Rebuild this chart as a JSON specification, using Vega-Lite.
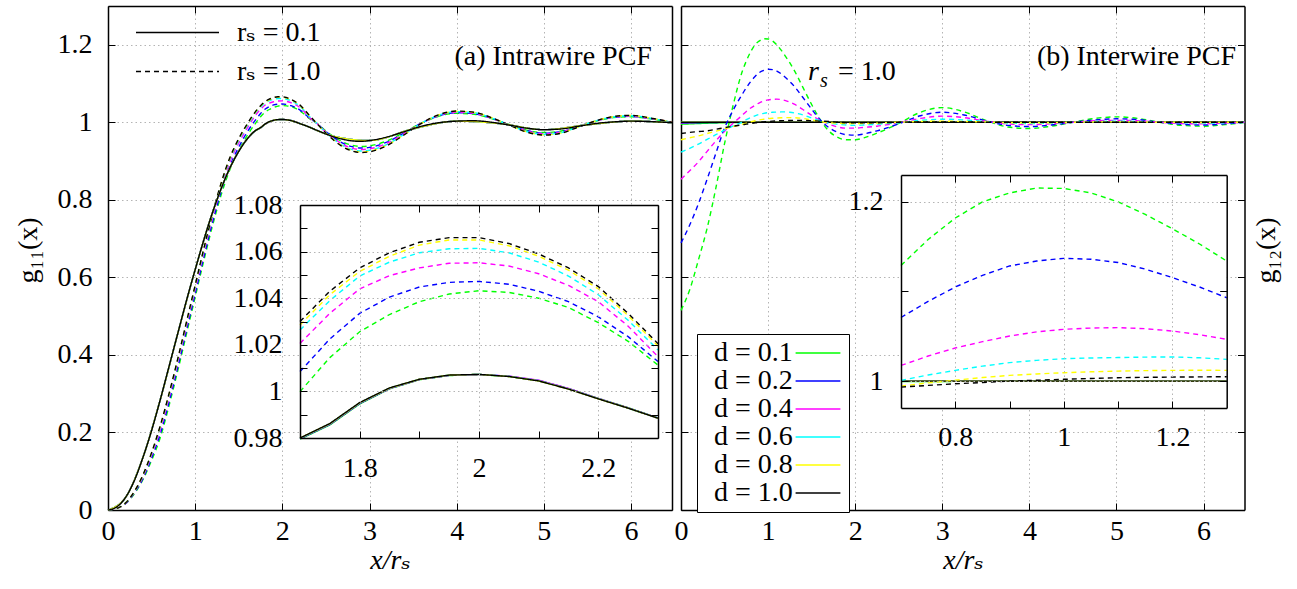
{
"$schema":"https://vega.github.io/schema/vega-lite/v6.json",
"width":1297,"height":589,"autosize":{"type":"none"},"padding":0,"background":"white",
"config":{"view":{"stroke":null},"font":"Liberation Serif, Times New Roman, DejaVu Serif, serif",
"axis":{"labelFont":"Liberation Serif, Times New Roman, DejaVu Serif, serif","labelFontSize":28,"labelColor":"black","titleFont":"Liberation Serif, Times New Roman, DejaVu Serif, serif","titleFontSize":28,"titleFontWeight":"normal","titleColor":"black","tickColor":"black","tickSize":-7,"tickWidth":1,"domainColor":"black","domainWidth":1.5,"gridColor":"#b4b4b4","gridDash":[1.5,3],"gridWidth":1,"labelFlush":false,"labelOverlap":false,"minExtent":0},
"legend":{"labelFont":"Liberation Serif, Times New Roman, DejaVu Serif, serif","labelFontSize":28,"labelColor":"black"}},
"datasets":{
"intra":[
{"d":"0.1","s":"1.0","x":0,"g":0},{"d":"0.1","s":"1.0","x":0.1,"g":0.004},{"d":"0.1","s":"1.0","x":0.2,"g":0.016},{"d":"0.1","s":"1.0","x":0.3,"g":0.041},{"d":"0.1","s":"1.0","x":0.4,"g":0.078},{"d":"0.1","s":"1.0","x":0.5,"g":0.128},{"d":"0.1","s":"1.0","x":0.6,"g":0.187},{"d":"0.1","s":"1.0","x":0.7,"g":0.269},{"d":"0.1","s":"1.0","x":0.8,"g":0.359},{"d":"0.1","s":"1.0","x":0.9,"g":0.454},{"d":"0.1","s":"1.0","x":1,"g":0.549},{"d":"0.1","s":"1.0","x":1.1,"g":0.644},{"d":"0.1","s":"1.0","x":1.2,"g":0.734},{"d":"0.1","s":"1.0","x":1.3,"g":0.814},{"d":"0.1","s":"1.0","x":1.4,"g":0.879},{"d":"0.1","s":"1.0","x":1.5,"g":0.927},{"d":"0.1","s":"1.0","x":1.6,"g":0.967},{"d":"0.1","s":"1.0","x":1.7,"g":0.9999},{"d":"0.1","s":"1.0","x":1.75,"g":1.0145},{"d":"0.1","s":"1.0","x":1.8,"g":1.0256},{"d":"0.1","s":"1.0","x":1.85,"g":1.033},{"d":"0.1","s":"1.0","x":1.9,"g":1.0385},{"d":"0.1","s":"1.0","x":1.95,"g":1.0418},{"d":"0.1","s":"1.0","x":2,"g":1.0432},{"d":"0.1","s":"1.0","x":2.05,"g":1.0425},{"d":"0.1","s":"1.0","x":2.1,"g":1.04},{"d":"0.1","s":"1.0","x":2.15,"g":1.036},{"d":"0.1","s":"1.0","x":2.2,"g":1.0295},{"d":"0.1","s":"1.0","x":2.25,"g":1.0215},{"d":"0.1","s":"1.0","x":2.3,"g":1.0113},{"d":"0.1","s":"1.0","x":2.4,"g":0.9968},{"d":"0.1","s":"1.0","x":2.5,"g":0.9776},{"d":"0.1","s":"1.0","x":2.6,"g":0.9616},{"d":"0.1","s":"1.0","x":2.7,"g":0.9488},{"d":"0.1","s":"1.0","x":2.8,"g":0.9408},{"d":"0.1","s":"1.0","x":2.9,"g":0.9376},{"d":"0.1","s":"1.0","x":3,"g":0.9392},{"d":"0.1","s":"1.0","x":3.2,"g":0.952},{"d":"0.1","s":"1.0","x":3.4,"g":0.9744},{"d":"0.1","s":"1.0","x":3.6,"g":0.9984},{"d":"0.1","s":"1.0","x":3.8,"g":1.016},{"d":"0.1","s":"1.0","x":4,"g":1.0232},{"d":"0.1","s":"1.0","x":4.2,"g":1.0208},{"d":"0.1","s":"1.0","x":4.4,"g":1.0096},{"d":"0.1","s":"1.0","x":4.6,"g":0.9944},{"d":"0.1","s":"1.0","x":4.8,"g":0.98},{"d":"0.1","s":"1.0","x":5,"g":0.9736},{"d":"0.1","s":"1.0","x":5.2,"g":0.9776},{"d":"0.1","s":"1.0","x":5.4,"g":0.9904},{"d":"0.1","s":"1.0","x":5.6,"g":1.0032},{"d":"0.1","s":"1.0","x":5.8,"g":1.012},{"d":"0.1","s":"1.0","x":6,"g":1.0144},{"d":"0.1","s":"1.0","x":6.2,"g":1.0096},{"d":"0.1","s":"1.0","x":6.47,"g":1},
{"d":"0.2","s":"1.0","x":0,"g":0},{"d":"0.2","s":"1.0","x":0.1,"g":0.004},{"d":"0.2","s":"1.0","x":0.2,"g":0.016},{"d":"0.2","s":"1.0","x":0.3,"g":0.043},{"d":"0.2","s":"1.0","x":0.4,"g":0.081},{"d":"0.2","s":"1.0","x":0.5,"g":0.134},{"d":"0.2","s":"1.0","x":0.6,"g":0.196},{"d":"0.2","s":"1.0","x":0.7,"g":0.278},{"d":"0.2","s":"1.0","x":0.8,"g":0.368},{"d":"0.2","s":"1.0","x":0.9,"g":0.463},{"d":"0.2","s":"1.0","x":1,"g":0.558},{"d":"0.2","s":"1.0","x":1.1,"g":0.653},{"d":"0.2","s":"1.0","x":1.2,"g":0.743},{"d":"0.2","s":"1.0","x":1.3,"g":0.823},{"d":"0.2","s":"1.0","x":1.4,"g":0.888},{"d":"0.2","s":"1.0","x":1.5,"g":0.936},{"d":"0.2","s":"1.0","x":1.6,"g":0.976},{"d":"0.2","s":"1.0","x":1.7,"g":1.0085},{"d":"0.2","s":"1.0","x":1.75,"g":1.0225},{"d":"0.2","s":"1.0","x":1.8,"g":1.0335},{"d":"0.2","s":"1.0","x":1.85,"g":1.0405},{"d":"0.2","s":"1.0","x":1.9,"g":1.0448},{"d":"0.2","s":"1.0","x":1.95,"g":1.0468},{"d":"0.2","s":"1.0","x":2,"g":1.0472},{"d":"0.2","s":"1.0","x":2.05,"g":1.046},{"d":"0.2","s":"1.0","x":2.1,"g":1.043},{"d":"0.2","s":"1.0","x":2.15,"g":1.0385},{"d":"0.2","s":"1.0","x":2.2,"g":1.032},{"d":"0.2","s":"1.0","x":2.25,"g":1.0235},{"d":"0.2","s":"1.0","x":2.3,"g":1.0128},{"d":"0.2","s":"1.0","x":2.4,"g":0.9966},{"d":"0.2","s":"1.0","x":2.5,"g":0.9762},{"d":"0.2","s":"1.0","x":2.6,"g":0.9592},{"d":"0.2","s":"1.0","x":2.7,"g":0.9456},{"d":"0.2","s":"1.0","x":2.8,"g":0.9371},{"d":"0.2","s":"1.0","x":2.9,"g":0.9337},{"d":"0.2","s":"1.0","x":3,"g":0.9354},{"d":"0.2","s":"1.0","x":3.2,"g":0.949},{"d":"0.2","s":"1.0","x":3.4,"g":0.9728},{"d":"0.2","s":"1.0","x":3.6,"g":0.9983},{"d":"0.2","s":"1.0","x":3.8,"g":1.017},{"d":"0.2","s":"1.0","x":4,"g":1.0247},{"d":"0.2","s":"1.0","x":4.2,"g":1.0221},{"d":"0.2","s":"1.0","x":4.4,"g":1.0102},{"d":"0.2","s":"1.0","x":4.6,"g":0.994},{"d":"0.2","s":"1.0","x":4.8,"g":0.9788},{"d":"0.2","s":"1.0","x":5,"g":0.972},{"d":"0.2","s":"1.0","x":5.2,"g":0.9762},{"d":"0.2","s":"1.0","x":5.4,"g":0.9898},{"d":"0.2","s":"1.0","x":5.6,"g":1.0034},{"d":"0.2","s":"1.0","x":5.8,"g":1.0128},{"d":"0.2","s":"1.0","x":6,"g":1.0153},{"d":"0.2","s":"1.0","x":6.2,"g":1.0102},{"d":"0.2","s":"1.0","x":6.47,"g":1},
{"d":"0.4","s":"1.0","x":0,"g":0},{"d":"0.4","s":"1.0","x":0.1,"g":0.004},{"d":"0.4","s":"1.0","x":0.2,"g":0.017},{"d":"0.4","s":"1.0","x":0.3,"g":0.045},{"d":"0.4","s":"1.0","x":0.4,"g":0.085},{"d":"0.4","s":"1.0","x":0.5,"g":0.141},{"d":"0.4","s":"1.0","x":0.6,"g":0.207},{"d":"0.4","s":"1.0","x":0.7,"g":0.289},{"d":"0.4","s":"1.0","x":0.8,"g":0.379},{"d":"0.4","s":"1.0","x":0.9,"g":0.474},{"d":"0.4","s":"1.0","x":1,"g":0.569},{"d":"0.4","s":"1.0","x":1.1,"g":0.664},{"d":"0.4","s":"1.0","x":1.2,"g":0.754},{"d":"0.4","s":"1.0","x":1.3,"g":0.834},{"d":"0.4","s":"1.0","x":1.4,"g":0.899},{"d":"0.4","s":"1.0","x":1.5,"g":0.947},{"d":"0.4","s":"1.0","x":1.6,"g":0.986},{"d":"0.4","s":"1.0","x":1.7,"g":1.0206},{"d":"0.4","s":"1.0","x":1.75,"g":1.0335},{"d":"0.4","s":"1.0","x":1.8,"g":1.044},{"d":"0.4","s":"1.0","x":1.85,"g":1.0497},{"d":"0.4","s":"1.0","x":1.9,"g":1.053},{"d":"0.4","s":"1.0","x":1.95,"g":1.055},{"d":"0.4","s":"1.0","x":2,"g":1.0552},{"d":"0.4","s":"1.0","x":2.05,"g":1.0538},{"d":"0.4","s":"1.0","x":2.1,"g":1.0505},{"d":"0.4","s":"1.0","x":2.15,"g":1.0455},{"d":"0.4","s":"1.0","x":2.2,"g":1.0385},{"d":"0.4","s":"1.0","x":2.25,"g":1.028},{"d":"0.4","s":"1.0","x":2.3,"g":1.0149},{"d":"0.4","s":"1.0","x":2.4,"g":0.9964},{"d":"0.4","s":"1.0","x":2.5,"g":0.9748},{"d":"0.4","s":"1.0","x":2.6,"g":0.9568},{"d":"0.4","s":"1.0","x":2.7,"g":0.9424},{"d":"0.4","s":"1.0","x":2.8,"g":0.9334},{"d":"0.4","s":"1.0","x":2.9,"g":0.9298},{"d":"0.4","s":"1.0","x":3,"g":0.9316},{"d":"0.4","s":"1.0","x":3.2,"g":0.946},{"d":"0.4","s":"1.0","x":3.4,"g":0.9712},{"d":"0.4","s":"1.0","x":3.6,"g":0.9982},{"d":"0.4","s":"1.0","x":3.8,"g":1.018},{"d":"0.4","s":"1.0","x":4,"g":1.0261},{"d":"0.4","s":"1.0","x":4.2,"g":1.0234},{"d":"0.4","s":"1.0","x":4.4,"g":1.0108},{"d":"0.4","s":"1.0","x":4.6,"g":0.9937},{"d":"0.4","s":"1.0","x":4.8,"g":0.9775},{"d":"0.4","s":"1.0","x":5,"g":0.9703},{"d":"0.4","s":"1.0","x":5.2,"g":0.9748},{"d":"0.4","s":"1.0","x":5.4,"g":0.9892},{"d":"0.4","s":"1.0","x":5.6,"g":1.0036},{"d":"0.4","s":"1.0","x":5.8,"g":1.0135},{"d":"0.4","s":"1.0","x":6,"g":1.0162},{"d":"0.4","s":"1.0","x":6.2,"g":1.0108},{"d":"0.4","s":"1.0","x":6.47,"g":1},
{"d":"0.6","s":"1.0","x":0,"g":0},{"d":"0.6","s":"1.0","x":0.1,"g":0.004},{"d":"0.6","s":"1.0","x":0.2,"g":0.018},{"d":"0.6","s":"1.0","x":0.3,"g":0.046},{"d":"0.6","s":"1.0","x":0.4,"g":0.088},{"d":"0.6","s":"1.0","x":0.5,"g":0.145},{"d":"0.6","s":"1.0","x":0.6,"g":0.213},{"d":"0.6","s":"1.0","x":0.7,"g":0.295},{"d":"0.6","s":"1.0","x":0.8,"g":0.385},{"d":"0.6","s":"1.0","x":0.9,"g":0.48},{"d":"0.6","s":"1.0","x":1,"g":0.575},{"d":"0.6","s":"1.0","x":1.1,"g":0.67},{"d":"0.6","s":"1.0","x":1.2,"g":0.76},{"d":"0.6","s":"1.0","x":1.3,"g":0.84},{"d":"0.6","s":"1.0","x":1.4,"g":0.905},{"d":"0.6","s":"1.0","x":1.5,"g":0.953},{"d":"0.6","s":"1.0","x":1.6,"g":0.992},{"d":"0.6","s":"1.0","x":1.7,"g":1.0264},{"d":"0.6","s":"1.0","x":1.75,"g":1.039},{"d":"0.6","s":"1.0","x":1.8,"g":1.0495},{"d":"0.6","s":"1.0","x":1.85,"g":1.0555},{"d":"0.6","s":"1.0","x":1.9,"g":1.0595},{"d":"0.6","s":"1.0","x":1.95,"g":1.0612},{"d":"0.6","s":"1.0","x":2,"g":1.0614},{"d":"0.6","s":"1.0","x":2.05,"g":1.0595},{"d":"0.6","s":"1.0","x":2.1,"g":1.0555},{"d":"0.6","s":"1.0","x":2.15,"g":1.0495},{"d":"0.6","s":"1.0","x":2.2,"g":1.0415},{"d":"0.6","s":"1.0","x":2.25,"g":1.0305},{"d":"0.6","s":"1.0","x":2.3,"g":1.0178},{"d":"0.6","s":"1.0","x":2.4,"g":0.9962},{"d":"0.6","s":"1.0","x":2.5,"g":0.9734},{"d":"0.6","s":"1.0","x":2.6,"g":0.9544},{"d":"0.6","s":"1.0","x":2.7,"g":0.9392},{"d":"0.6","s":"1.0","x":2.8,"g":0.9297},{"d":"0.6","s":"1.0","x":2.9,"g":0.9259},{"d":"0.6","s":"1.0","x":3,"g":0.9278},{"d":"0.6","s":"1.0","x":3.2,"g":0.943},{"d":"0.6","s":"1.0","x":3.4,"g":0.9696},{"d":"0.6","s":"1.0","x":3.6,"g":0.9981},{"d":"0.6","s":"1.0","x":3.8,"g":1.019},{"d":"0.6","s":"1.0","x":4,"g":1.0276},{"d":"0.6","s":"1.0","x":4.2,"g":1.0247},{"d":"0.6","s":"1.0","x":4.4,"g":1.0114},{"d":"0.6","s":"1.0","x":4.6,"g":0.9934},{"d":"0.6","s":"1.0","x":4.8,"g":0.9763},{"d":"0.6","s":"1.0","x":5,"g":0.9687},{"d":"0.6","s":"1.0","x":5.2,"g":0.9734},{"d":"0.6","s":"1.0","x":5.4,"g":0.9886},{"d":"0.6","s":"1.0","x":5.6,"g":1.0038},{"d":"0.6","s":"1.0","x":5.8,"g":1.0143},{"d":"0.6","s":"1.0","x":6,"g":1.0171},{"d":"0.6","s":"1.0","x":6.2,"g":1.0114},{"d":"0.6","s":"1.0","x":6.47,"g":1},
{"d":"0.8","s":"1.0","x":0,"g":0},{"d":"0.8","s":"1.0","x":0.1,"g":0.004},{"d":"0.8","s":"1.0","x":0.2,"g":0.018},{"d":"0.8","s":"1.0","x":0.3,"g":0.047},{"d":"0.8","s":"1.0","x":0.4,"g":0.089},{"d":"0.8","s":"1.0","x":0.5,"g":0.147},{"d":"0.8","s":"1.0","x":0.6,"g":0.216},{"d":"0.8","s":"1.0","x":0.7,"g":0.298},{"d":"0.8","s":"1.0","x":0.8,"g":0.388},{"d":"0.8","s":"1.0","x":0.9,"g":0.483},{"d":"0.8","s":"1.0","x":1,"g":0.578},{"d":"0.8","s":"1.0","x":1.1,"g":0.673},{"d":"0.8","s":"1.0","x":1.2,"g":0.763},{"d":"0.8","s":"1.0","x":1.3,"g":0.843},{"d":"0.8","s":"1.0","x":1.4,"g":0.908},{"d":"0.8","s":"1.0","x":1.5,"g":0.956},{"d":"0.8","s":"1.0","x":1.6,"g":0.995},{"d":"0.8","s":"1.0","x":1.7,"g":1.0285},{"d":"0.8","s":"1.0","x":1.75,"g":1.0415},{"d":"0.8","s":"1.0","x":1.8,"g":1.0515},{"d":"0.8","s":"1.0","x":1.85,"g":1.058},{"d":"0.8","s":"1.0","x":1.9,"g":1.0628},{"d":"0.8","s":"1.0","x":1.95,"g":1.065},{"d":"0.8","s":"1.0","x":2,"g":1.065},{"d":"0.8","s":"1.0","x":2.05,"g":1.0625},{"d":"0.8","s":"1.0","x":2.1,"g":1.058},{"d":"0.8","s":"1.0","x":2.15,"g":1.052},{"d":"0.8","s":"1.0","x":2.2,"g":1.044},{"d":"0.8","s":"1.0","x":2.25,"g":1.0325},{"d":"0.8","s":"1.0","x":2.3,"g":1.0195},{"d":"0.8","s":"1.0","x":2.4,"g":0.996},{"d":"0.8","s":"1.0","x":2.5,"g":0.9726},{"d":"0.8","s":"1.0","x":2.6,"g":0.953},{"d":"0.8","s":"1.0","x":2.7,"g":0.9373},{"d":"0.8","s":"1.0","x":2.8,"g":0.9275},{"d":"0.8","s":"1.0","x":2.9,"g":0.9236},{"d":"0.8","s":"1.0","x":3,"g":0.9255},{"d":"0.8","s":"1.0","x":3.2,"g":0.9412},{"d":"0.8","s":"1.0","x":3.4,"g":0.9686},{"d":"0.8","s":"1.0","x":3.6,"g":0.998},{"d":"0.8","s":"1.0","x":3.8,"g":1.0196},{"d":"0.8","s":"1.0","x":4,"g":1.0284},{"d":"0.8","s":"1.0","x":4.2,"g":1.0255},{"d":"0.8","s":"1.0","x":4.4,"g":1.0118},{"d":"0.8","s":"1.0","x":4.6,"g":0.9931},{"d":"0.8","s":"1.0","x":4.8,"g":0.9755},{"d":"0.8","s":"1.0","x":5,"g":0.9677},{"d":"0.8","s":"1.0","x":5.2,"g":0.9726},{"d":"0.8","s":"1.0","x":5.4,"g":0.9882},{"d":"0.8","s":"1.0","x":5.6,"g":1.0039},{"d":"0.8","s":"1.0","x":5.8,"g":1.0147},{"d":"0.8","s":"1.0","x":6,"g":1.0176},{"d":"0.8","s":"1.0","x":6.2,"g":1.0118},{"d":"0.8","s":"1.0","x":6.47,"g":1},
{"d":"1.0","s":"1.0","x":0,"g":0},{"d":"1.0","s":"1.0","x":0.1,"g":0.004},{"d":"1.0","s":"1.0","x":0.2,"g":0.018},{"d":"1.0","s":"1.0","x":0.3,"g":0.047},{"d":"1.0","s":"1.0","x":0.4,"g":0.09},{"d":"1.0","s":"1.0","x":0.5,"g":0.148},{"d":"1.0","s":"1.0","x":0.6,"g":0.218},{"d":"1.0","s":"1.0","x":0.7,"g":0.3},{"d":"1.0","s":"1.0","x":0.8,"g":0.39},{"d":"1.0","s":"1.0","x":0.9,"g":0.485},{"d":"1.0","s":"1.0","x":1,"g":0.58},{"d":"1.0","s":"1.0","x":1.1,"g":0.675},{"d":"1.0","s":"1.0","x":1.2,"g":0.765},{"d":"1.0","s":"1.0","x":1.3,"g":0.845},{"d":"1.0","s":"1.0","x":1.4,"g":0.91},{"d":"1.0","s":"1.0","x":1.5,"g":0.958},{"d":"1.0","s":"1.0","x":1.6,"g":0.997},{"d":"1.0","s":"1.0","x":1.7,"g":1.03},{"d":"1.0","s":"1.0","x":1.75,"g":1.043},{"d":"1.0","s":"1.0","x":1.8,"g":1.053},{"d":"1.0","s":"1.0","x":1.85,"g":1.0595},{"d":"1.0","s":"1.0","x":1.9,"g":1.064},{"d":"1.0","s":"1.0","x":1.95,"g":1.066},{"d":"1.0","s":"1.0","x":2,"g":1.066},{"d":"1.0","s":"1.0","x":2.05,"g":1.0635},{"d":"1.0","s":"1.0","x":2.1,"g":1.059},{"d":"1.0","s":"1.0","x":2.15,"g":1.053},{"d":"1.0","s":"1.0","x":2.2,"g":1.045},{"d":"1.0","s":"1.0","x":2.25,"g":1.0335},{"d":"1.0","s":"1.0","x":2.3,"g":1.0205},{"d":"1.0","s":"1.0","x":2.4,"g":0.996},{"d":"1.0","s":"1.0","x":2.5,"g":0.972},{"d":"1.0","s":"1.0","x":2.6,"g":0.952},{"d":"1.0","s":"1.0","x":2.7,"g":0.936},{"d":"1.0","s":"1.0","x":2.8,"g":0.926},{"d":"1.0","s":"1.0","x":2.9,"g":0.922},{"d":"1.0","s":"1.0","x":3,"g":0.924},{"d":"1.0","s":"1.0","x":3.2,"g":0.94},{"d":"1.0","s":"1.0","x":3.4,"g":0.968},{"d":"1.0","s":"1.0","x":3.6,"g":0.998},{"d":"1.0","s":"1.0","x":3.8,"g":1.02},{"d":"1.0","s":"1.0","x":4,"g":1.029},{"d":"1.0","s":"1.0","x":4.2,"g":1.026},{"d":"1.0","s":"1.0","x":4.4,"g":1.012},{"d":"1.0","s":"1.0","x":4.6,"g":0.993},{"d":"1.0","s":"1.0","x":4.8,"g":0.975},{"d":"1.0","s":"1.0","x":5,"g":0.967},{"d":"1.0","s":"1.0","x":5.2,"g":0.972},{"d":"1.0","s":"1.0","x":5.4,"g":0.988},{"d":"1.0","s":"1.0","x":5.6,"g":1.004},{"d":"1.0","s":"1.0","x":5.8,"g":1.015},{"d":"1.0","s":"1.0","x":6,"g":1.018},{"d":"1.0","s":"1.0","x":6.2,"g":1.012},{"d":"1.0","s":"1.0","x":6.47,"g":1},
{"d":"0.1","s":"0.1","x":0,"g":0},{"d":"0.1","s":"0.1","x":0.2,"g":0.032},{"d":"0.1","s":"0.1","x":0.4,"g":0.135},{"d":"0.1","s":"0.1","x":0.6,"g":0.285},{"d":"0.1","s":"0.1","x":0.8,"g":0.455},{"d":"0.1","s":"0.1","x":1,"g":0.62},{"d":"0.1","s":"0.1","x":1.2,"g":0.768},{"d":"0.1","s":"0.1","x":1.4,"g":0.883},{"d":"0.1","s":"0.1","x":1.6,"g":0.958},{"d":"0.1","s":"0.1","x":1.7,"g":0.9795},{"d":"0.1","s":"0.1","x":1.75,"g":0.9856},{"d":"0.1","s":"0.1","x":1.8,"g":0.9946},{"d":"0.1","s":"0.1","x":1.85,"g":1.0011},{"d":"0.1","s":"0.1","x":1.9,"g":1.005},{"d":"0.1","s":"0.1","x":1.95,"g":1.0068},{"d":"0.1","s":"0.1","x":2,"g":1.0072},{"d":"0.1","s":"0.1","x":2.05,"g":1.0064},{"d":"0.1","s":"0.1","x":2.1,"g":1.0046},{"d":"0.1","s":"0.1","x":2.15,"g":1.0012},{"d":"0.1","s":"0.1","x":2.2,"g":0.997},{"d":"0.1","s":"0.1","x":2.25,"g":0.993},{"d":"0.1","s":"0.1","x":2.3,"g":0.9886},{"d":"0.1","s":"0.1","x":2.5,"g":0.97},{"d":"0.1","s":"0.1","x":3,"g":0.953},{"d":"0.1","s":"0.1","x":3.5,"g":0.983},{"d":"0.1","s":"0.1","x":4,"g":1.003},{"d":"0.1","s":"0.1","x":4.5,"g":0.9965},{"d":"0.1","s":"0.1","x":5,"g":0.981},{"d":"0.1","s":"0.1","x":5.5,"g":0.9935},{"d":"0.1","s":"0.1","x":6,"g":1.003},{"d":"0.1","s":"0.1","x":6.47,"g":0.999},
{"d":"0.2","s":"0.1","x":0,"g":0},{"d":"0.2","s":"0.1","x":0.2,"g":0.032},{"d":"0.2","s":"0.1","x":0.4,"g":0.135},{"d":"0.2","s":"0.1","x":0.6,"g":0.285},{"d":"0.2","s":"0.1","x":0.8,"g":0.455},{"d":"0.2","s":"0.1","x":1,"g":0.62},{"d":"0.2","s":"0.1","x":1.2,"g":0.768},{"d":"0.2","s":"0.1","x":1.4,"g":0.883},{"d":"0.2","s":"0.1","x":1.6,"g":0.958},{"d":"0.2","s":"0.1","x":1.7,"g":0.9797},{"d":"0.2","s":"0.1","x":1.75,"g":0.9858},{"d":"0.2","s":"0.1","x":1.8,"g":0.9948},{"d":"0.2","s":"0.1","x":1.85,"g":1.0012},{"d":"0.2","s":"0.1","x":1.9,"g":1.0051},{"d":"0.2","s":"0.1","x":1.95,"g":1.0069},{"d":"0.2","s":"0.1","x":2,"g":1.0073},{"d":"0.2","s":"0.1","x":2.05,"g":1.0065},{"d":"0.2","s":"0.1","x":2.1,"g":1.0047},{"d":"0.2","s":"0.1","x":2.15,"g":1.0012},{"d":"0.2","s":"0.1","x":2.2,"g":0.9969},{"d":"0.2","s":"0.1","x":2.25,"g":0.9929},{"d":"0.2","s":"0.1","x":2.3,"g":0.9886},{"d":"0.2","s":"0.1","x":2.5,"g":0.97},{"d":"0.2","s":"0.1","x":3,"g":0.953},{"d":"0.2","s":"0.1","x":3.5,"g":0.983},{"d":"0.2","s":"0.1","x":4,"g":1.003},{"d":"0.2","s":"0.1","x":4.5,"g":0.9965},{"d":"0.2","s":"0.1","x":5,"g":0.981},{"d":"0.2","s":"0.1","x":5.5,"g":0.9935},{"d":"0.2","s":"0.1","x":6,"g":1.003},{"d":"0.2","s":"0.1","x":6.47,"g":0.999},
{"d":"0.4","s":"0.1","x":0,"g":0},{"d":"0.4","s":"0.1","x":0.2,"g":0.032},{"d":"0.4","s":"0.1","x":0.4,"g":0.135},{"d":"0.4","s":"0.1","x":0.6,"g":0.285},{"d":"0.4","s":"0.1","x":0.8,"g":0.455},{"d":"0.4","s":"0.1","x":1,"g":0.62},{"d":"0.4","s":"0.1","x":1.2,"g":0.768},{"d":"0.4","s":"0.1","x":1.4,"g":0.883},{"d":"0.4","s":"0.1","x":1.6,"g":0.958},{"d":"0.4","s":"0.1","x":1.7,"g":0.9798},{"d":"0.4","s":"0.1","x":1.75,"g":0.986},{"d":"0.4","s":"0.1","x":1.8,"g":0.995},{"d":"0.4","s":"0.1","x":1.85,"g":1.0013},{"d":"0.4","s":"0.1","x":1.9,"g":1.0051},{"d":"0.4","s":"0.1","x":1.95,"g":1.0069},{"d":"0.4","s":"0.1","x":2,"g":1.0072},{"d":"0.4","s":"0.1","x":2.05,"g":1.0066},{"d":"0.4","s":"0.1","x":2.1,"g":1.0048},{"d":"0.4","s":"0.1","x":2.15,"g":1.0013},{"d":"0.4","s":"0.1","x":2.2,"g":0.997},{"d":"0.4","s":"0.1","x":2.25,"g":0.9929},{"d":"0.4","s":"0.1","x":2.3,"g":0.9885},{"d":"0.4","s":"0.1","x":2.5,"g":0.97},{"d":"0.4","s":"0.1","x":3,"g":0.953},{"d":"0.4","s":"0.1","x":3.5,"g":0.983},{"d":"0.4","s":"0.1","x":4,"g":1.003},{"d":"0.4","s":"0.1","x":4.5,"g":0.9965},{"d":"0.4","s":"0.1","x":5,"g":0.981},{"d":"0.4","s":"0.1","x":5.5,"g":0.9935},{"d":"0.4","s":"0.1","x":6,"g":1.003},{"d":"0.4","s":"0.1","x":6.47,"g":0.999},
{"d":"0.6","s":"0.1","x":0,"g":0},{"d":"0.6","s":"0.1","x":0.2,"g":0.032},{"d":"0.6","s":"0.1","x":0.4,"g":0.135},{"d":"0.6","s":"0.1","x":0.6,"g":0.285},{"d":"0.6","s":"0.1","x":0.8,"g":0.455},{"d":"0.6","s":"0.1","x":1,"g":0.62},{"d":"0.6","s":"0.1","x":1.2,"g":0.768},{"d":"0.6","s":"0.1","x":1.4,"g":0.883},{"d":"0.6","s":"0.1","x":1.6,"g":0.958},{"d":"0.6","s":"0.1","x":1.7,"g":0.9799},{"d":"0.6","s":"0.1","x":1.75,"g":0.9861},{"d":"0.6","s":"0.1","x":1.8,"g":0.9951},{"d":"0.6","s":"0.1","x":1.85,"g":1.0014},{"d":"0.6","s":"0.1","x":1.9,"g":1.0052},{"d":"0.6","s":"0.1","x":1.95,"g":1.007},{"d":"0.6","s":"0.1","x":2,"g":1.0073},{"d":"0.6","s":"0.1","x":2.05,"g":1.0065},{"d":"0.6","s":"0.1","x":2.1,"g":1.0046},{"d":"0.6","s":"0.1","x":2.15,"g":1.0011},{"d":"0.6","s":"0.1","x":2.2,"g":0.9969},{"d":"0.6","s":"0.1","x":2.25,"g":0.9928},{"d":"0.6","s":"0.1","x":2.3,"g":0.9885},{"d":"0.6","s":"0.1","x":2.5,"g":0.97},{"d":"0.6","s":"0.1","x":3,"g":0.953},{"d":"0.6","s":"0.1","x":3.5,"g":0.983},{"d":"0.6","s":"0.1","x":4,"g":1.003},{"d":"0.6","s":"0.1","x":4.5,"g":0.9965},{"d":"0.6","s":"0.1","x":5,"g":0.981},{"d":"0.6","s":"0.1","x":5.5,"g":0.9935},{"d":"0.6","s":"0.1","x":6,"g":1.003},{"d":"0.6","s":"0.1","x":6.47,"g":0.999},
{"d":"0.8","s":"0.1","x":0,"g":0},{"d":"0.8","s":"0.1","x":0.2,"g":0.032},{"d":"0.8","s":"0.1","x":0.4,"g":0.135},{"d":"0.8","s":"0.1","x":0.6,"g":0.285},{"d":"0.8","s":"0.1","x":0.8,"g":0.455},{"d":"0.8","s":"0.1","x":1,"g":0.62},{"d":"0.8","s":"0.1","x":1.2,"g":0.768},{"d":"0.8","s":"0.1","x":1.4,"g":0.883},{"d":"0.8","s":"0.1","x":1.6,"g":0.958},{"d":"0.8","s":"0.1","x":1.7,"g":0.98},{"d":"0.8","s":"0.1","x":1.75,"g":0.9861},{"d":"0.8","s":"0.1","x":1.8,"g":0.9951},{"d":"0.8","s":"0.1","x":1.85,"g":1.0014},{"d":"0.8","s":"0.1","x":1.9,"g":1.0052},{"d":"0.8","s":"0.1","x":1.95,"g":1.007},{"d":"0.8","s":"0.1","x":2,"g":1.0073},{"d":"0.8","s":"0.1","x":2.05,"g":1.0064},{"d":"0.8","s":"0.1","x":2.1,"g":1.0045},{"d":"0.8","s":"0.1","x":2.15,"g":1.001},{"d":"0.8","s":"0.1","x":2.2,"g":0.9968},{"d":"0.8","s":"0.1","x":2.25,"g":0.9928},{"d":"0.8","s":"0.1","x":2.3,"g":0.9885},{"d":"0.8","s":"0.1","x":2.5,"g":0.97},{"d":"0.8","s":"0.1","x":3,"g":0.953},{"d":"0.8","s":"0.1","x":3.5,"g":0.983},{"d":"0.8","s":"0.1","x":4,"g":1.003},{"d":"0.8","s":"0.1","x":4.5,"g":0.9965},{"d":"0.8","s":"0.1","x":5,"g":0.981},{"d":"0.8","s":"0.1","x":5.5,"g":0.9935},{"d":"0.8","s":"0.1","x":6,"g":1.003},{"d":"0.8","s":"0.1","x":6.47,"g":0.999},
{"d":"1.0","s":"0.1","x":0,"g":0},{"d":"1.0","s":"0.1","x":0.1,"g":0.008},{"d":"1.0","s":"0.1","x":0.2,"g":0.032},{"d":"1.0","s":"0.1","x":0.3,"g":0.075},{"d":"1.0","s":"0.1","x":0.4,"g":0.135},{"d":"1.0","s":"0.1","x":0.5,"g":0.205},{"d":"1.0","s":"0.1","x":0.6,"g":0.285},{"d":"1.0","s":"0.1","x":0.7,"g":0.37},{"d":"1.0","s":"0.1","x":0.8,"g":0.455},{"d":"1.0","s":"0.1","x":0.9,"g":0.54},{"d":"1.0","s":"0.1","x":1,"g":0.62},{"d":"1.0","s":"0.1","x":1.1,"g":0.697},{"d":"1.0","s":"0.1","x":1.2,"g":0.768},{"d":"1.0","s":"0.1","x":1.3,"g":0.83},{"d":"1.0","s":"0.1","x":1.4,"g":0.883},{"d":"1.0","s":"0.1","x":1.5,"g":0.925},{"d":"1.0","s":"0.1","x":1.6,"g":0.958},{"d":"1.0","s":"0.1","x":1.7,"g":0.98},{"d":"1.0","s":"0.1","x":1.75,"g":0.9862},{"d":"1.0","s":"0.1","x":1.8,"g":0.9952},{"d":"1.0","s":"0.1","x":1.85,"g":1.0015},{"d":"1.0","s":"0.1","x":1.9,"g":1.0052},{"d":"1.0","s":"0.1","x":1.95,"g":1.007},{"d":"1.0","s":"0.1","x":2,"g":1.0073},{"d":"1.0","s":"0.1","x":2.05,"g":1.0064},{"d":"1.0","s":"0.1","x":2.1,"g":1.0045},{"d":"1.0","s":"0.1","x":2.15,"g":1.001},{"d":"1.0","s":"0.1","x":2.2,"g":0.9968},{"d":"1.0","s":"0.1","x":2.25,"g":0.9928},{"d":"1.0","s":"0.1","x":2.3,"g":0.9885},{"d":"1.0","s":"0.1","x":2.4,"g":0.979},{"d":"1.0","s":"0.1","x":2.5,"g":0.97},{"d":"1.0","s":"0.1","x":2.6,"g":0.962},{"d":"1.0","s":"0.1","x":2.7,"g":0.956},{"d":"1.0","s":"0.1","x":2.8,"g":0.952},{"d":"1.0","s":"0.1","x":2.9,"g":0.951},{"d":"1.0","s":"0.1","x":3,"g":0.953},{"d":"1.0","s":"0.1","x":3.2,"g":0.962},{"d":"1.0","s":"0.1","x":3.4,"g":0.976},{"d":"1.0","s":"0.1","x":3.6,"g":0.99},{"d":"1.0","s":"0.1","x":3.8,"g":0.999},{"d":"1.0","s":"0.1","x":4,"g":1.003},{"d":"1.0","s":"0.1","x":4.2,"g":1.004},{"d":"1.0","s":"0.1","x":4.4,"g":1},{"d":"1.0","s":"0.1","x":4.6,"g":0.993},{"d":"1.0","s":"0.1","x":4.8,"g":0.985},{"d":"1.0","s":"0.1","x":5,"g":0.981},{"d":"1.0","s":"0.1","x":5.2,"g":0.983},{"d":"1.0","s":"0.1","x":5.4,"g":0.99},{"d":"1.0","s":"0.1","x":5.6,"g":0.997},{"d":"1.0","s":"0.1","x":5.8,"g":1.001},{"d":"1.0","s":"0.1","x":6,"g":1.003},{"d":"1.0","s":"0.1","x":6.2,"g":1.002},{"d":"1.0","s":"0.1","x":6.47,"g":0.999}
],
"inter":[
{"d":"0.1","s":"0.1","x":0,"g":0.995},{"d":"0.1","s":"0.1","x":0.35,"g":0.998},{"d":"0.1","s":"0.1","x":0.7,"g":0.9995},{"d":"0.1","s":"0.1","x":1,"g":1},{"d":"0.1","s":"0.1","x":1.3,"g":1},{"d":"0.1","s":"0.1","x":2,"g":1},{"d":"0.1","s":"0.1","x":3,"g":1},{"d":"0.1","s":"0.1","x":4,"g":1},{"d":"0.1","s":"0.1","x":5,"g":1},{"d":"0.1","s":"0.1","x":6,"g":1},{"d":"0.1","s":"0.1","x":6.47,"g":1},
{"d":"0.2","s":"0.1","x":0,"g":0.998},{"d":"0.2","s":"0.1","x":0.35,"g":0.9995},{"d":"0.2","s":"0.1","x":0.7,"g":1},{"d":"0.2","s":"0.1","x":1,"g":1},{"d":"0.2","s":"0.1","x":1.3,"g":1},{"d":"0.2","s":"0.1","x":2,"g":1},{"d":"0.2","s":"0.1","x":3,"g":1},{"d":"0.2","s":"0.1","x":4,"g":1},{"d":"0.2","s":"0.1","x":5,"g":1},{"d":"0.2","s":"0.1","x":6,"g":1},{"d":"0.2","s":"0.1","x":6.47,"g":1},
{"d":"0.4","s":"0.1","x":0,"g":0.999},{"d":"0.4","s":"0.1","x":0.35,"g":1},{"d":"0.4","s":"0.1","x":0.7,"g":1},{"d":"0.4","s":"0.1","x":1,"g":1},{"d":"0.4","s":"0.1","x":1.3,"g":1},{"d":"0.4","s":"0.1","x":2,"g":1},{"d":"0.4","s":"0.1","x":3,"g":1},{"d":"0.4","s":"0.1","x":4,"g":1},{"d":"0.4","s":"0.1","x":5,"g":1},{"d":"0.4","s":"0.1","x":6,"g":1},{"d":"0.4","s":"0.1","x":6.47,"g":1},
{"d":"0.6","s":"0.1","x":0,"g":1},{"d":"0.6","s":"0.1","x":0.35,"g":1},{"d":"0.6","s":"0.1","x":0.7,"g":1},{"d":"0.6","s":"0.1","x":1,"g":1},{"d":"0.6","s":"0.1","x":1.3,"g":1},{"d":"0.6","s":"0.1","x":2,"g":1},{"d":"0.6","s":"0.1","x":3,"g":1},{"d":"0.6","s":"0.1","x":4,"g":1},{"d":"0.6","s":"0.1","x":5,"g":1},{"d":"0.6","s":"0.1","x":6,"g":1},{"d":"0.6","s":"0.1","x":6.47,"g":1},
{"d":"0.8","s":"0.1","x":0,"g":1},{"d":"0.8","s":"0.1","x":0.35,"g":1},{"d":"0.8","s":"0.1","x":0.7,"g":1},{"d":"0.8","s":"0.1","x":1,"g":1},{"d":"0.8","s":"0.1","x":1.3,"g":1},{"d":"0.8","s":"0.1","x":2,"g":1},{"d":"0.8","s":"0.1","x":3,"g":1},{"d":"0.8","s":"0.1","x":4,"g":1},{"d":"0.8","s":"0.1","x":5,"g":1},{"d":"0.8","s":"0.1","x":6,"g":1},{"d":"0.8","s":"0.1","x":6.47,"g":1},
{"d":"1.0","s":"0.1","x":0,"g":1},{"d":"1.0","s":"0.1","x":0.35,"g":1},{"d":"1.0","s":"0.1","x":0.7,"g":1},{"d":"1.0","s":"0.1","x":1,"g":1},{"d":"1.0","s":"0.1","x":1.3,"g":1},{"d":"1.0","s":"0.1","x":2,"g":1},{"d":"1.0","s":"0.1","x":3,"g":1},{"d":"1.0","s":"0.1","x":4,"g":1},{"d":"1.0","s":"0.1","x":5,"g":1},{"d":"1.0","s":"0.1","x":6,"g":1},{"d":"1.0","s":"0.1","x":6.47,"g":1},
{"d":"0.1","s":"1.0","x":0,"g":0.515},{"d":"0.1","s":"1.0","x":0.1,"g":0.568},{"d":"0.1","s":"1.0","x":0.2,"g":0.645},{"d":"0.1","s":"1.0","x":0.3,"g":0.727},{"d":"0.1","s":"1.0","x":0.4,"g":0.83},{"d":"0.1","s":"1.0","x":0.5,"g":0.945},{"d":"0.1","s":"1.0","x":0.6,"g":1.045},{"d":"0.1","s":"1.0","x":0.7,"g":1.129},{"d":"0.1","s":"1.0","x":0.75,"g":1.158},{"d":"0.1","s":"1.0","x":0.8,"g":1.182},{"d":"0.1","s":"1.0","x":0.85,"g":1.2},{"d":"0.1","s":"1.0","x":0.9,"g":1.21},{"d":"0.1","s":"1.0","x":0.95,"g":1.2155},{"d":"0.1","s":"1.0","x":1,"g":1.215},{"d":"0.1","s":"1.0","x":1.05,"g":1.21},{"d":"0.1","s":"1.0","x":1.1,"g":1.2},{"d":"0.1","s":"1.0","x":1.15,"g":1.186},{"d":"0.1","s":"1.0","x":1.2,"g":1.17},{"d":"0.1","s":"1.0","x":1.25,"g":1.153},{"d":"0.1","s":"1.0","x":1.3,"g":1.134},{"d":"0.1","s":"1.0","x":1.4,"g":1.09},{"d":"0.1","s":"1.0","x":1.5,"g":1.046},{"d":"0.1","s":"1.0","x":1.6,"g":1.006},{"d":"0.1","s":"1.0","x":1.7,"g":0.977},{"d":"0.1","s":"1.0","x":1.8,"g":0.961},{"d":"0.1","s":"1.0","x":1.9,"g":0.955},{"d":"0.1","s":"1.0","x":2,"g":0.955},{"d":"0.1","s":"1.0","x":2.1,"g":0.96},{"d":"0.1","s":"1.0","x":2.25,"g":0.972},{"d":"0.1","s":"1.0","x":2.5,"g":0.997},{"d":"0.1","s":"1.0","x":2.75,"g":1.026},{"d":"0.1","s":"1.0","x":3,"g":1.038},{"d":"0.1","s":"1.0","x":3.25,"g":1.027},{"d":"0.1","s":"1.0","x":3.5,"g":1.005},{"d":"0.1","s":"1.0","x":3.75,"g":0.988},{"d":"0.1","s":"1.0","x":4,"g":0.984},{"d":"0.1","s":"1.0","x":4.25,"g":0.99},{"d":"0.1","s":"1.0","x":4.5,"g":1},{"d":"0.1","s":"1.0","x":4.75,"g":1.01},{"d":"0.1","s":"1.0","x":5,"g":1.014},{"d":"0.1","s":"1.0","x":5.25,"g":1.01},{"d":"0.1","s":"1.0","x":5.5,"g":1},{"d":"0.1","s":"1.0","x":5.75,"g":0.992},{"d":"0.1","s":"1.0","x":6,"g":0.99},{"d":"0.1","s":"1.0","x":6.25,"g":0.994},{"d":"0.1","s":"1.0","x":6.47,"g":1},
{"d":"0.2","s":"1.0","x":0,"g":0.689},{"d":"0.2","s":"1.0","x":0.1,"g":0.735},{"d":"0.2","s":"1.0","x":0.2,"g":0.79},{"d":"0.2","s":"1.0","x":0.3,"g":0.853},{"d":"0.2","s":"1.0","x":0.4,"g":0.92},{"d":"0.2","s":"1.0","x":0.5,"g":0.985},{"d":"0.2","s":"1.0","x":0.6,"g":1.032},{"d":"0.2","s":"1.0","x":0.7,"g":1.071},{"d":"0.2","s":"1.0","x":0.75,"g":1.089},{"d":"0.2","s":"1.0","x":0.8,"g":1.105},{"d":"0.2","s":"1.0","x":0.85,"g":1.118},{"d":"0.2","s":"1.0","x":0.9,"g":1.1285},{"d":"0.2","s":"1.0","x":0.95,"g":1.134},{"d":"0.2","s":"1.0","x":1,"g":1.137},{"d":"0.2","s":"1.0","x":1.05,"g":1.136},{"d":"0.2","s":"1.0","x":1.1,"g":1.1323},{"d":"0.2","s":"1.0","x":1.15,"g":1.125},{"d":"0.2","s":"1.0","x":1.2,"g":1.1155},{"d":"0.2","s":"1.0","x":1.25,"g":1.105},{"d":"0.2","s":"1.0","x":1.3,"g":1.093},{"d":"0.2","s":"1.0","x":1.4,"g":1.064},{"d":"0.2","s":"1.0","x":1.5,"g":1.034},{"d":"0.2","s":"1.0","x":1.6,"g":1.006},{"d":"0.2","s":"1.0","x":1.7,"g":0.986},{"d":"0.2","s":"1.0","x":1.8,"g":0.974},{"d":"0.2","s":"1.0","x":1.9,"g":0.968},{"d":"0.2","s":"1.0","x":2,"g":0.967},{"d":"0.2","s":"1.0","x":2.1,"g":0.97},{"d":"0.2","s":"1.0","x":2.25,"g":0.978},{"d":"0.2","s":"1.0","x":2.5,"g":0.996},{"d":"0.2","s":"1.0","x":2.75,"g":1.017},{"d":"0.2","s":"1.0","x":3,"g":1.026},{"d":"0.2","s":"1.0","x":3.25,"g":1.019},{"d":"0.2","s":"1.0","x":3.5,"g":1.004},{"d":"0.2","s":"1.0","x":3.75,"g":0.992},{"d":"0.2","s":"1.0","x":4,"g":0.989},{"d":"0.2","s":"1.0","x":4.25,"g":0.993},{"d":"0.2","s":"1.0","x":4.5,"g":1},{"d":"0.2","s":"1.0","x":4.75,"g":1.006},{"d":"0.2","s":"1.0","x":5,"g":1.009},{"d":"0.2","s":"1.0","x":5.25,"g":1.007},{"d":"0.2","s":"1.0","x":5.5,"g":1},{"d":"0.2","s":"1.0","x":5.75,"g":0.995},{"d":"0.2","s":"1.0","x":6,"g":0.993},{"d":"0.2","s":"1.0","x":6.25,"g":0.996},{"d":"0.2","s":"1.0","x":6.47,"g":1},
{"d":"0.4","s":"1.0","x":0,"g":0.853},{"d":"0.4","s":"1.0","x":0.1,"g":0.875},{"d":"0.4","s":"1.0","x":0.2,"g":0.898},{"d":"0.4","s":"1.0","x":0.3,"g":0.925},{"d":"0.4","s":"1.0","x":0.4,"g":0.952},{"d":"0.4","s":"1.0","x":0.5,"g":0.977},{"d":"0.4","s":"1.0","x":0.6,"g":0.998},{"d":"0.4","s":"1.0","x":0.7,"g":1.0175},{"d":"0.4","s":"1.0","x":0.75,"g":1.028},{"d":"0.4","s":"1.0","x":0.8,"g":1.037},{"d":"0.4","s":"1.0","x":0.85,"g":1.044},{"d":"0.4","s":"1.0","x":0.9,"g":1.0503},{"d":"0.4","s":"1.0","x":0.95,"g":1.055},{"d":"0.4","s":"1.0","x":1,"g":1.0578},{"d":"0.4","s":"1.0","x":1.05,"g":1.0592},{"d":"0.4","s":"1.0","x":1.1,"g":1.0597},{"d":"0.4","s":"1.0","x":1.15,"g":1.0585},{"d":"0.4","s":"1.0","x":1.2,"g":1.0559},{"d":"0.4","s":"1.0","x":1.25,"g":1.0518},{"d":"0.4","s":"1.0","x":1.3,"g":1.0466},{"d":"0.4","s":"1.0","x":1.4,"g":1.033},{"d":"0.4","s":"1.0","x":1.5,"g":1.018},{"d":"0.4","s":"1.0","x":1.6,"g":1.005},{"d":"0.4","s":"1.0","x":1.7,"g":0.995},{"d":"0.4","s":"1.0","x":1.8,"g":0.988},{"d":"0.4","s":"1.0","x":1.9,"g":0.985},{"d":"0.4","s":"1.0","x":2,"g":0.985},{"d":"0.4","s":"1.0","x":2.1,"g":0.987},{"d":"0.4","s":"1.0","x":2.25,"g":0.99},{"d":"0.4","s":"1.0","x":2.5,"g":0.999},{"d":"0.4","s":"1.0","x":2.75,"g":1.01},{"d":"0.4","s":"1.0","x":3,"g":1.016},{"d":"0.4","s":"1.0","x":3.25,"g":1.012},{"d":"0.4","s":"1.0","x":3.5,"g":1.003},{"d":"0.4","s":"1.0","x":3.75,"g":0.996},{"d":"0.4","s":"1.0","x":4,"g":0.994},{"d":"0.4","s":"1.0","x":4.25,"g":0.996},{"d":"0.4","s":"1.0","x":4.5,"g":1},{"d":"0.4","s":"1.0","x":4.75,"g":1.004},{"d":"0.4","s":"1.0","x":5,"g":1.005},{"d":"0.4","s":"1.0","x":5.25,"g":1.004},{"d":"0.4","s":"1.0","x":5.5,"g":1},{"d":"0.4","s":"1.0","x":5.75,"g":0.997},{"d":"0.4","s":"1.0","x":6,"g":0.996},{"d":"0.4","s":"1.0","x":6.25,"g":0.998},{"d":"0.4","s":"1.0","x":6.47,"g":1},
{"d":"0.6","s":"1.0","x":0,"g":0.923},{"d":"0.6","s":"1.0","x":0.1,"g":0.933},{"d":"0.6","s":"1.0","x":0.2,"g":0.944},{"d":"0.6","s":"1.0","x":0.3,"g":0.956},{"d":"0.6","s":"1.0","x":0.4,"g":0.968},{"d":"0.6","s":"1.0","x":0.5,"g":0.98},{"d":"0.6","s":"1.0","x":0.6,"g":0.991},{"d":"0.6","s":"1.0","x":0.7,"g":1.0008},{"d":"0.6","s":"1.0","x":0.75,"g":1.0068},{"d":"0.6","s":"1.0","x":0.8,"g":1.012},{"d":"0.6","s":"1.0","x":0.85,"g":1.0167},{"d":"0.6","s":"1.0","x":0.9,"g":1.0206},{"d":"0.6","s":"1.0","x":0.95,"g":1.0232},{"d":"0.6","s":"1.0","x":1,"g":1.025},{"d":"0.6","s":"1.0","x":1.05,"g":1.0258},{"d":"0.6","s":"1.0","x":1.1,"g":1.0263},{"d":"0.6","s":"1.0","x":1.15,"g":1.0268},{"d":"0.6","s":"1.0","x":1.2,"g":1.027},{"d":"0.6","s":"1.0","x":1.25,"g":1.026},{"d":"0.6","s":"1.0","x":1.3,"g":1.0243},{"d":"0.6","s":"1.0","x":1.4,"g":1.019},{"d":"0.6","s":"1.0","x":1.5,"g":1.011},{"d":"0.6","s":"1.0","x":1.6,"g":1.004},{"d":"0.6","s":"1.0","x":1.7,"g":0.998},{"d":"0.6","s":"1.0","x":1.8,"g":0.995},{"d":"0.6","s":"1.0","x":1.9,"g":0.993},{"d":"0.6","s":"1.0","x":2,"g":0.992},{"d":"0.6","s":"1.0","x":2.1,"g":0.993},{"d":"0.6","s":"1.0","x":2.25,"g":0.995},{"d":"0.6","s":"1.0","x":2.5,"g":0.999},{"d":"0.6","s":"1.0","x":2.75,"g":1.005},{"d":"0.6","s":"1.0","x":3,"g":1.008},{"d":"0.6","s":"1.0","x":3.25,"g":1.006},{"d":"0.6","s":"1.0","x":3.5,"g":1.002},{"d":"0.6","s":"1.0","x":3.75,"g":0.998},{"d":"0.6","s":"1.0","x":4,"g":0.997},{"d":"0.6","s":"1.0","x":4.25,"g":0.998},{"d":"0.6","s":"1.0","x":4.5,"g":1},{"d":"0.6","s":"1.0","x":4.75,"g":1.002},{"d":"0.6","s":"1.0","x":5,"g":1.003},{"d":"0.6","s":"1.0","x":5.25,"g":1.002},{"d":"0.6","s":"1.0","x":5.5,"g":1},{"d":"0.6","s":"1.0","x":5.75,"g":0.999},{"d":"0.6","s":"1.0","x":6,"g":0.998},{"d":"0.6","s":"1.0","x":6.25,"g":0.999},{"d":"0.6","s":"1.0","x":6.47,"g":1},
{"d":"0.8","s":"1.0","x":0,"g":0.955},{"d":"0.8","s":"1.0","x":0.1,"g":0.96},{"d":"0.8","s":"1.0","x":0.2,"g":0.965},{"d":"0.8","s":"1.0","x":0.3,"g":0.971},{"d":"0.8","s":"1.0","x":0.4,"g":0.977},{"d":"0.8","s":"1.0","x":0.5,"g":0.983},{"d":"0.8","s":"1.0","x":0.6,"g":0.989},{"d":"0.8","s":"1.0","x":0.7,"g":0.9944},{"d":"0.8","s":"1.0","x":0.75,"g":0.998},{"d":"0.8","s":"1.0","x":0.8,"g":1.0011},{"d":"0.8","s":"1.0","x":0.85,"g":1.004},{"d":"0.8","s":"1.0","x":0.9,"g":1.0064},{"d":"0.8","s":"1.0","x":0.95,"g":1.008},{"d":"0.8","s":"1.0","x":1,"g":1.0094},{"d":"0.8","s":"1.0","x":1.05,"g":1.0104},{"d":"0.8","s":"1.0","x":1.1,"g":1.0112},{"d":"0.8","s":"1.0","x":1.15,"g":1.0117},{"d":"0.8","s":"1.0","x":1.2,"g":1.012},{"d":"0.8","s":"1.0","x":1.25,"g":1.0121},{"d":"0.8","s":"1.0","x":1.3,"g":1.012},{"d":"0.8","s":"1.0","x":1.4,"g":1.01},{"d":"0.8","s":"1.0","x":1.5,"g":1.006},{"d":"0.8","s":"1.0","x":1.6,"g":1.002},{"d":"0.8","s":"1.0","x":1.7,"g":0.999},{"d":"0.8","s":"1.0","x":1.8,"g":0.998},{"d":"0.8","s":"1.0","x":1.9,"g":0.997},{"d":"0.8","s":"1.0","x":2,"g":0.997},{"d":"0.8","s":"1.0","x":2.1,"g":0.997},{"d":"0.8","s":"1.0","x":2.25,"g":0.998},{"d":"0.8","s":"1.0","x":2.5,"g":1},{"d":"0.8","s":"1.0","x":2.75,"g":1.002},{"d":"0.8","s":"1.0","x":3,"g":1.003},{"d":"0.8","s":"1.0","x":3.25,"g":1.002},{"d":"0.8","s":"1.0","x":3.5,"g":1.001},{"d":"0.8","s":"1.0","x":3.75,"g":0.999},{"d":"0.8","s":"1.0","x":4,"g":0.999},{"d":"0.8","s":"1.0","x":4.25,"g":0.999},{"d":"0.8","s":"1.0","x":4.5,"g":1},{"d":"0.8","s":"1.0","x":4.75,"g":1.001},{"d":"0.8","s":"1.0","x":5,"g":1.001},{"d":"0.8","s":"1.0","x":5.25,"g":1.001},{"d":"0.8","s":"1.0","x":5.5,"g":1},{"d":"0.8","s":"1.0","x":5.75,"g":1},{"d":"0.8","s":"1.0","x":6,"g":0.9995},{"d":"0.8","s":"1.0","x":6.25,"g":1},{"d":"0.8","s":"1.0","x":6.47,"g":1},
{"d":"1.0","s":"1.0","x":0,"g":0.971},{"d":"1.0","s":"1.0","x":0.1,"g":0.974},{"d":"1.0","s":"1.0","x":0.2,"g":0.976},{"d":"1.0","s":"1.0","x":0.3,"g":0.978},{"d":"1.0","s":"1.0","x":0.4,"g":0.982},{"d":"1.0","s":"1.0","x":0.5,"g":0.986},{"d":"1.0","s":"1.0","x":0.6,"g":0.99},{"d":"1.0","s":"1.0","x":0.7,"g":0.9933},{"d":"1.0","s":"1.0","x":0.75,"g":0.9952},{"d":"1.0","s":"1.0","x":0.8,"g":0.997},{"d":"1.0","s":"1.0","x":0.85,"g":0.9985},{"d":"1.0","s":"1.0","x":0.9,"g":1},{"d":"1.0","s":"1.0","x":0.95,"g":1.001},{"d":"1.0","s":"1.0","x":1,"g":1.002},{"d":"1.0","s":"1.0","x":1.05,"g":1.003},{"d":"1.0","s":"1.0","x":1.1,"g":1.0038},{"d":"1.0","s":"1.0","x":1.15,"g":1.0042},{"d":"1.0","s":"1.0","x":1.2,"g":1.0045},{"d":"1.0","s":"1.0","x":1.25,"g":1.0047},{"d":"1.0","s":"1.0","x":1.3,"g":1.0049},{"d":"1.0","s":"1.0","x":1.4,"g":1.005},{"d":"1.0","s":"1.0","x":1.5,"g":1.004},{"d":"1.0","s":"1.0","x":1.6,"g":1.003},{"d":"1.0","s":"1.0","x":1.7,"g":1.002},{"d":"1.0","s":"1.0","x":1.8,"g":1},{"d":"1.0","s":"1.0","x":1.9,"g":0.999},{"d":"1.0","s":"1.0","x":2,"g":0.999},{"d":"1.0","s":"1.0","x":2.1,"g":0.999},{"d":"1.0","s":"1.0","x":2.25,"g":0.999},{"d":"1.0","s":"1.0","x":2.5,"g":1},{"d":"1.0","s":"1.0","x":2.75,"g":1.001},{"d":"1.0","s":"1.0","x":3,"g":1.001},{"d":"1.0","s":"1.0","x":3.25,"g":1.001},{"d":"1.0","s":"1.0","x":3.5,"g":1},{"d":"1.0","s":"1.0","x":4,"g":1},{"d":"1.0","s":"1.0","x":5,"g":1},{"d":"1.0","s":"1.0","x":6,"g":1},{"d":"1.0","s":"1.0","x":6.47,"g":1}
]},
"layer":[
{"data":{"name":"intra"},"mark":{"type":"line","interpolate":"monotone","strokeWidth":1.4},
"encoding":{
"x":{"field":"x","type":"quantitative","scale":{"domain":[0,6.47],"range":[108,672],"nice":false,"zero":false},"axis":{"orient":"bottom","offset":-79,"values":[0,1,2,3,4,5,6],"labelPadding":14,"grid":false,"title":"x/rₛ","titleFontStyle":"italic","titleX":390,"titleY":50,"titleBaseline":"middle"}},
"y":{"field":"g","type":"quantitative","scale":{"domain":[0,1.3],"range":[510,6],"nice":false,"zero":false},"axis":{"orient":"left","offset":-108,"values":[0,0.2,0.4,0.6,0.8,1,1.2],"format":"~g","labelPadding":23,"grid":true,"title":"g₁₁(x)","titleX":-80,"titleY":250,"titleAngle":-90,"titleBaseline":"middle"}},
"color":{"field":"d","type":"nominal","scale":{"domain":["0.1","0.2","0.4","0.6","0.8","1.0"],"range":["#00ff00","#0000ff","#ff00ff","#00ffff","#ffff00","#000000"]},"legend":{"orient":"none","legendX":697,"legendY":334,"title":null,"symbolType":"M-2.8,0H2.8","symbolSize":256,"symbolStrokeWidth":1.4,"labelExpr":"'d = ' + datum.label","labelOffset":-118,"symbolOffset":102,"rowPadding":0,"padding":5,"strokeColor":"black","fillColor":"white"}},
"strokeDash":{"field":"s","type":"nominal","scale":{"domain":["0.1","1.0"],"range":[[1,0],[5,4]]},"legend":{"orient":"none","legendX":131,"legendY":9,"title":null,"symbolType":"stroke","symbolSize":6889,"symbolStrokeWidth":1.4,"symbolStrokeColor":"black","labelExpr":"'rₛ = ' + datum.label","labelOffset":17,"clipHeight":39,"rowPadding":0,"padding":4}}
}},
{"data":{"values":[{"label":"(a) Intrawire PCF"}]},"mark":{"type":"text","align":"right","baseline":"middle","fontSize":28,"font":"Liberation Serif, Times New Roman, DejaVu Serif, serif","color":"black"},
"encoding":{"text":{"field":"label"},
"x":{"datum":6.24,"type":"quantitative","scale":{"domain":[0,6.47],"range":[108,672],"nice":false,"zero":false},"axis":{"orient":"top","offset":-6,"values":[0,1,2,3,4,5,6],"labels":false,"grid":true,"title":null}},
"y":{"datum":1.168,"type":"quantitative","scale":{"domain":[0,1.3],"range":[510,6],"nice":false,"zero":false},"axis":{"orient":"right","offset":-625,"values":[0,0.2,0.4,0.6,0.8,1,1.2],"labels":false,"grid":false,"title":null}}}},
{"data":{"name":"inter"},"mark":{"type":"line","interpolate":"monotone","strokeWidth":1.4},
"encoding":{
"x":{"field":"x","type":"quantitative","scale":{"domain":[0,6.47],"range":[681,1244.5],"nice":false,"zero":false},"axis":{"orient":"bottom","offset":-79,"values":[0,1,2,3,4,5,6],"labelPadding":14,"grid":false,"title":"x/rₛ","titleFontStyle":"italic","titleX":963,"titleY":50,"titleBaseline":"middle"}},
"y":{"field":"g","type":"quantitative","scale":{"domain":[0,1.3],"range":[510,6],"nice":false,"zero":false},"axis":{"orient":"left","offset":-681,"values":[0,0.2,0.4,0.6,0.8,1,1.2],"labels":false,"grid":true,"title":null}},
"color":{"field":"d","type":"nominal","scale":{"domain":["0.1","0.2","0.4","0.6","0.8","1.0"],"range":["#00ff00","#0000ff","#ff00ff","#00ffff","#ffff00","#000000"]}},
"strokeDash":{"field":"s","type":"nominal","scale":{"domain":["0.1","1.0"],"range":[[1,0],[5,4]]}}
}},
{"data":{"values":[{"label":"(b) Interwire PCF"}]},"mark":{"type":"text","align":"right","baseline":"middle","fontSize":28,"font":"Liberation Serif, Times New Roman, DejaVu Serif, serif","color":"black"},
"encoding":{"text":{"field":"label"},
"x":{"datum":6.372,"type":"quantitative","scale":{"domain":[0,6.47],"range":[681,1244.5],"nice":false,"zero":false},"axis":{"orient":"top","offset":-6,"values":[0,1,2,3,4,5,6],"labels":false,"grid":true,"title":null}},
"y":{"datum":1.168,"type":"quantitative","scale":{"domain":[0,1.3],"range":[510,6],"nice":false,"zero":false},"axis":{"orient":"right","offset":-52.5,"values":[0,0.2,0.4,0.6,0.8,1,1.2],"labels":false,"grid":false,"title":"g₁₂(x)","titleX":21.5,"titleY":250,"titleAngle":-90,"titleBaseline":"middle"}}}},
{"data":{"values":[{"label":"r"}]},"mark":{"type":"text","align":"left","baseline":"middle","fontSize":28,"fontStyle":"italic","font":"Liberation Serif, Times New Roman, DejaVu Serif, serif","color":"black"},
"encoding":{"text":{"field":"label"},
"x":{"datum":1.458,"type":"quantitative","scale":{"domain":[0,6.47],"range":[681,1244.5],"nice":false,"zero":false},"axis":null},
"y":{"datum":1.13,"type":"quantitative","scale":{"domain":[0,1.3],"range":[510,6],"nice":false,"zero":false},"axis":null}}},
{"data":{"values":[{"label":"s"}]},"mark":{"type":"text","align":"left","baseline":"middle","fontSize":20,"fontStyle":"italic","font":"Liberation Serif, Times New Roman, DejaVu Serif, serif","color":"black","dx":12,"dy":9},
"encoding":{"text":{"field":"label"},
"x":{"datum":1.458,"type":"quantitative","scale":{"domain":[0,6.47],"range":[681,1244.5],"nice":false,"zero":false},"axis":null},
"y":{"datum":1.13,"type":"quantitative","scale":{"domain":[0,1.3],"range":[510,6],"nice":false,"zero":false},"axis":null}}},
{"data":{"values":[{"label":"= 1.0"}]},"mark":{"type":"text","align":"left","baseline":"middle","fontSize":28,"font":"Liberation Serif, Times New Roman, DejaVu Serif, serif","color":"black","dx":30},
"encoding":{"text":{"field":"label"},
"x":{"datum":1.458,"type":"quantitative","scale":{"domain":[0,6.47],"range":[681,1244.5],"nice":false,"zero":false},"axis":null},
"y":{"datum":1.13,"type":"quantitative","scale":{"domain":[0,1.3],"range":[510,6],"nice":false,"zero":false},"axis":null}}},
{"data":{"values":[{"inset":"a"}]},"mark":{"type":"rect","fill":"white"},
"encoding":{
"x":{"datum":1.7,"type":"quantitative","scale":{"domain":[1.7,2.3],"range":[300,658],"nice":false,"zero":false},"axis":{"orient":"top","offset":-205,"values":[1.8,1.9,2,2.1,2.2],"labels":false,"grid":false,"title":null,"zindex":1}},
"x2":{"datum":2.3},
"y":{"datum":0.98,"type":"quantitative","scale":{"domain":[0.98,1.08],"range":[438,205],"nice":false,"zero":false},"axis":{"orient":"right","offset":-639,"values":[0.98,0.99,1,1.01,1.02,1.03,1.04,1.05,1.06,1.07,1.08],"labels":false,"grid":false,"title":null,"zindex":1}},
"y2":{"datum":1.08}}},
{"data":{"values":[{"inset":"a"}]},"mark":{"type":"rect","opacity":0},
"encoding":{
"x":{"datum":1.7,"type":"quantitative","scale":{"domain":[1.7,2.3],"range":[300,658],"nice":false,"zero":false},"axis":{"orient":"top","offset":-205,"values":[1.8,2,2.2],"labels":false,"ticks":false,"domain":false,"grid":true,"title":null,"zindex":1}},
"x2":{"datum":2.3},
"y":{"datum":0.98,"type":"quantitative","scale":{"domain":[0.98,1.08],"range":[438,205],"nice":false,"zero":false},"axis":{"orient":"left","offset":-300,"values":[0.99,1.01,1.03,1.05,1.07],"labels":false,"domain":false,"grid":false,"title":null,"zindex":1}},
"y2":{"datum":1.08}}},
{"data":{"name":"intra"},"transform":[{"filter":{"field":"x","range":[1.7,2.3]}}],"mark":{"type":"line","strokeWidth":1.4},
"encoding":{
"x":{"field":"x","type":"quantitative","scale":{"domain":[1.7,2.3],"range":[300,658],"nice":false,"zero":false},"axis":{"orient":"bottom","offset":-151,"values":[1.8,1.9,2,2.1,2.2],"format":"~g","labelExpr":"indexof(['1.8','2','2.2'], datum.label) >= 0 ? datum.label : ''","labelPadding":23,"grid":false,"title":null,"zindex":1}},
"y":{"field":"g","type":"quantitative","scale":{"domain":[0.98,1.08],"range":[438,205],"nice":false,"zero":false},"axis":{"orient":"left","offset":-300,"values":[0.98,1,1.02,1.04,1.06,1.08],"format":"~g","labelPadding":25,"grid":true,"title":null,"zindex":1}},
"color":{"field":"d","type":"nominal","scale":{"domain":["0.1","0.2","0.4","0.6","0.8","1.0"],"range":["#00ff00","#0000ff","#ff00ff","#00ffff","#ffff00","#000000"]}},
"strokeDash":{"field":"s","type":"nominal","scale":{"domain":["0.1","1.0"],"range":[[1,0],[5,4]]}}
}},
{"data":{"values":[{"inset":"b"}]},"mark":{"type":"rect","fill":"white"},
"encoding":{
"x":{"datum":0.7,"type":"quantitative","scale":{"domain":[0.7,1.3],"range":[901,1226.7],"nice":false,"zero":false},"axis":{"orient":"top","offset":-175,"values":[0.8,0.9,1,1.1,1.2],"labels":false,"grid":false,"title":null,"zindex":1}},
"x2":{"datum":1.3},
"y":{"datum":0.97,"type":"quantitative","scale":{"domain":[0.97,1.23],"range":[408,175],"nice":false,"zero":false},"axis":{"orient":"right","offset":-70.3,"values":[1,1.1,1.2],"labels":false,"grid":false,"title":null,"zindex":1}},
"y2":{"datum":1.23}}},
{"data":{"values":[{"inset":"b"}]},"mark":{"type":"rect","opacity":0},
"encoding":{
"x":{"datum":0.7,"type":"quantitative","scale":{"domain":[0.7,1.3],"range":[901,1226.7],"nice":false,"zero":false},"axis":{"orient":"top","offset":-175,"values":[0.8,1,1.2],"labels":false,"ticks":false,"domain":false,"grid":true,"title":null,"zindex":1}},
"x2":{"datum":1.3},
"y":{"datum":0.97,"type":"quantitative","scale":{"domain":[0.97,1.23],"range":[408,175],"nice":false,"zero":false},"axis":{"orient":"left","offset":-901,"values":[1.1],"labels":false,"domain":false,"grid":false,"title":null,"zindex":1}},
"y2":{"datum":1.23}}},
{"data":{"name":"inter"},"transform":[{"filter":{"field":"x","range":[0.7,1.3]}}],"mark":{"type":"line","strokeWidth":1.4},
"encoding":{
"x":{"field":"x","type":"quantitative","scale":{"domain":[0.7,1.3],"range":[901,1226.7],"nice":false,"zero":false},"axis":{"orient":"bottom","offset":-181,"values":[0.8,0.9,1,1.1,1.2],"format":"~g","labelExpr":"indexof(['0.8','1','1.2'], datum.label) >= 0 ? datum.label : ''","labelPadding":22.5,"grid":false,"title":null,"zindex":1}},
"y":{"field":"g","type":"quantitative","scale":{"domain":[0.97,1.23],"range":[408,175],"nice":false,"zero":false},"axis":{"orient":"left","offset":-901,"values":[1,1.2],"format":"~g","labelPadding":25,"grid":true,"title":null,"zindex":1}},
"color":{"field":"d","type":"nominal","scale":{"domain":["0.1","0.2","0.4","0.6","0.8","1.0"],"range":["#00ff00","#0000ff","#ff00ff","#00ffff","#ffff00","#000000"]}},
"strokeDash":{"field":"s","type":"nominal","scale":{"domain":["0.1","1.0"],"range":[[1,0],[5,4]]}}
}}
],
"resolve":{"scale":{"x":"independent","y":"independent"},"axis":{"x":"independent","y":"independent"}}
}
